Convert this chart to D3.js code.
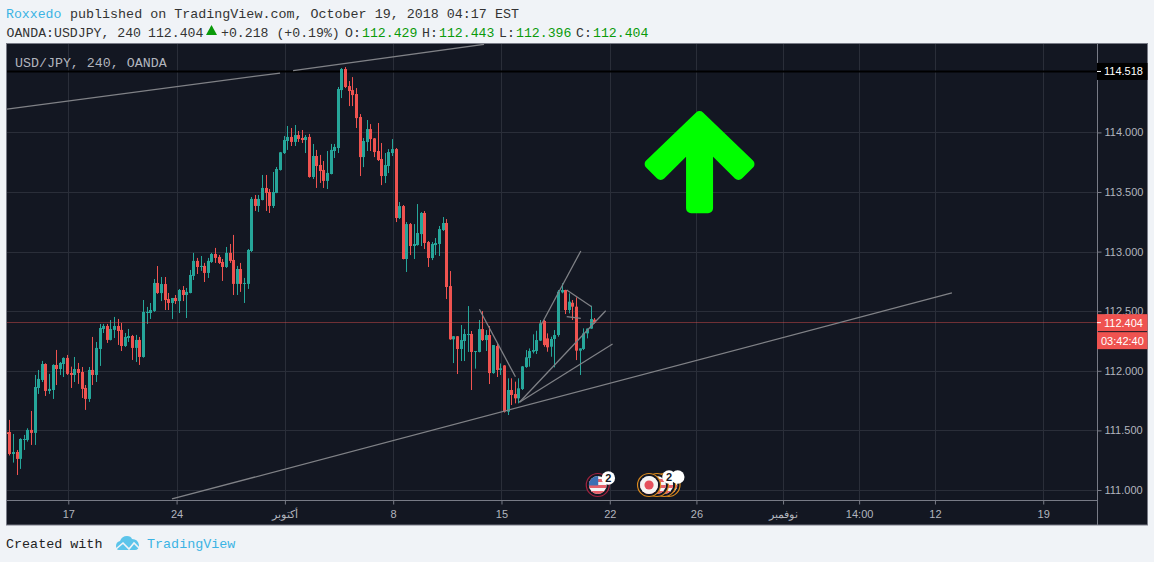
<!DOCTYPE html>
<html>
<head>
<meta charset="utf-8">
<style>
html,body{margin:0;padding:0;background:#f0f3f7;}
svg{display:block;}
text{white-space:pre;}
</style>
<script src="https://cdn.jsdelivr.net/npm/d3@7/dist/d3.min.js"></script>
</head>
<body>
<svg id="c" width="1154" height="562"></svg>
<script>
const opens=[
111.484,111.487,111.302,111.319,111.261,111.420,111.420,111.504,111.479,111.856,
111.923,112.057,111.831,111.839,112.049,112.015,112.057,112.108,111.982,111.965,
112.015,111.990,111.856,111.764,112.007,111.965,112.183,112.351,112.376,112.259,
112.343,112.376,112.343,112.208,112.275,112.292,112.192,112.259,112.116,112.485,
112.485,112.502,112.737,112.652,112.728,112.602,112.569,112.611,112.585,112.678,
112.636,112.653,112.796,112.922,112.871,112.880,112.821,112.913,112.980,112.955,
112.913,112.871,112.989,112.930,112.729,112.854,112.729,112.729,113.005,113.442,
113.383,113.433,113.534,113.500,113.383,113.492,113.685,113.827,113.928,113.962,
113.920,113.978,113.953,113.936,113.962,113.626,113.802,113.727,113.685,113.593,
113.651,113.844,113.869,114.355,114.532,114.389,114.355,114.322,114.129,113.793,
113.919,114.028,113.950,113.844,113.777,113.634,113.718,113.827,113.860,113.282,
113.382,112.938,113.231,113.047,113.055,113.147,113.324,113.080,112.946,113.055,
113.064,113.181,113.240,112.711,112.264,112.290,112.183,112.250,112.300,112.309,
112.158,112.158,112.350,112.258,112.300,111.981,112.208,112.007,112.045,111.657,
111.839,111.805,111.769,111.847,112.032,112.107,112.160,112.166,112.253,112.418,
112.272,112.202,112.267,112.300,112.658,112.678,112.510,112.571,112.538,112.169,
112.183,112.314,112.354,112.429];
const highs=[
111.518,111.588,111.470,111.336,111.434,111.462,111.518,111.663,111.965,112.007,
112.083,112.063,111.974,112.055,112.175,112.074,112.113,112.133,112.035,112.116,
112.066,112.032,111.881,112.032,112.284,112.242,112.393,112.393,112.393,112.426,
112.452,112.435,112.401,112.317,112.351,112.301,112.301,112.284,112.594,112.536,
112.569,112.770,112.879,112.787,112.787,112.653,112.611,112.636,112.686,112.711,
112.695,112.846,112.989,112.947,112.963,112.905,112.947,112.989,113.031,112.972,
112.938,113.039,113.064,113.140,112.880,112.905,112.779,113.022,113.458,113.475,
113.475,113.643,113.643,113.525,113.668,113.710,113.836,113.970,114.054,114.037,
114.062,114.012,114.020,113.978,113.987,113.903,113.853,113.811,113.760,113.844,
113.903,113.903,114.381,114.540,114.548,114.431,114.464,114.372,114.154,113.953,
114.104,114.070,113.953,114.079,113.911,113.827,113.860,113.944,113.869,113.416,
113.391,113.248,113.240,113.231,113.399,113.332,113.340,113.089,113.080,113.114,
113.215,113.290,113.273,112.837,112.292,112.292,112.384,112.350,112.543,112.334,
112.166,112.426,112.501,112.342,112.376,112.216,112.233,112.062,112.048,111.937,
111.937,111.909,111.937,112.040,112.174,112.188,112.306,112.336,112.426,112.426,
112.314,112.286,112.342,112.678,112.734,112.680,112.650,112.594,112.616,112.188,
112.356,112.356,112.546,112.443];
const lows=[
111.420,111.290,111.230,111.126,111.177,111.336,111.406,111.378,111.378,111.806,
111.906,111.789,111.806,111.764,111.881,111.965,111.948,111.965,111.856,111.906,
111.890,111.772,111.672,111.739,111.881,111.906,112.041,112.317,112.234,112.255,
112.275,112.217,112.166,112.200,112.242,112.091,112.074,112.049,112.110,112.393,
112.435,112.494,112.645,112.585,112.510,112.510,112.434,112.560,112.485,112.585,
112.443,112.650,112.762,112.812,112.838,112.745,112.779,112.905,112.905,112.896,
112.754,112.863,112.905,112.636,112.636,112.662,112.569,112.687,112.997,113.341,
113.333,113.430,113.341,113.324,113.366,113.490,113.680,113.819,113.853,113.886,
113.886,113.920,113.911,113.827,113.620,113.609,113.534,113.576,113.534,113.525,
113.648,113.785,113.827,114.288,114.372,114.221,114.221,114.037,113.634,113.709,
113.844,113.844,113.793,113.760,113.558,113.575,113.659,113.802,113.248,113.273,
112.935,112.829,112.971,112.938,113.050,113.047,113.022,112.871,112.929,112.971,
112.963,113.173,112.602,112.260,112.065,111.973,112.082,112.082,112.158,111.839,
112.018,112.155,112.250,112.166,111.889,111.975,111.948,111.965,111.650,111.629,
111.713,111.727,111.727,111.839,112.025,112.035,112.146,112.141,112.250,112.202,
112.160,112.118,112.029,112.286,112.650,112.476,112.482,112.426,112.090,111.965,
112.174,112.272,112.352,112.396];
const closes=[
111.470,111.302,111.319,111.261,111.428,111.428,111.504,111.479,111.864,111.932,
112.057,111.831,111.848,112.049,112.015,112.066,112.108,111.974,111.965,112.015,
111.982,111.848,111.764,112.007,111.965,112.192,112.359,112.376,112.259,112.351,
112.376,112.334,112.208,112.284,112.292,112.192,112.259,112.116,112.494,112.494,
112.510,112.737,112.653,112.728,112.594,112.569,112.611,112.585,112.678,112.636,
112.662,112.804,112.922,112.871,112.880,112.821,112.922,112.980,112.947,112.905,
112.871,112.989,112.922,112.729,112.854,112.729,112.737,113.014,113.442,113.383,
113.442,113.534,113.492,113.383,113.500,113.693,113.833,113.936,113.962,113.920,
113.978,113.945,113.936,113.962,113.626,113.802,113.718,113.676,113.593,113.660,
113.853,113.878,114.364,114.532,114.381,114.347,114.313,114.120,113.793,113.928,
114.028,113.944,113.835,113.768,113.634,113.726,113.835,113.860,113.282,113.382,
112.938,113.231,113.047,113.064,113.156,113.324,113.072,112.946,113.064,113.072,
113.189,113.240,112.703,112.264,112.290,112.183,112.258,112.309,112.309,112.158,
112.166,112.350,112.258,112.300,111.981,112.216,112.007,112.021,111.657,111.839,
111.797,111.769,111.853,112.037,112.113,112.166,112.174,112.258,112.398,112.216,
112.197,112.267,112.300,112.664,112.678,112.510,112.580,112.538,112.169,112.188,
112.314,112.354,112.434,112.404];

const priceTicks=[111,111.5,112,112.5,113,113.5,114];
const timeTickBars=[17.33,47.33,77.33,107.33,137.33,167.33,191.33,215.33,236.4,257.4,287.4];
const timeTickLabels=["17","24","أكتوبر","8","15","22","26","نوفمبر","14:00","12","19"];

// drawings: [bar, price] end points
const trendLines=[
 [[0.36,114.196],[76.0,114.498]],
 [[79.6,114.519],[132.5,114.739]],
 [[46.06,110.925],[262.1,112.653]],
 [[131.2,112.516],[141.2,111.950]],
 [[142.3,111.736],[166.2,112.504]],
 [[142.3,111.736],[168.1,112.225]],
 [[148.3,112.384],[159.3,113.005]],
 [[155.4,112.678],[162.3,112.538]],
 [[155.4,112.454],[159.3,112.440]]
];
const hLinePrice=114.518;
const lastPrice=112.404;
const arrowTip=[192.2,114.213];
const usEvent=164.0;
const jpEvents=[178.2,180.4,182.4,183.6];

const UP="#26a69a",DOWN="#ef5350",BG="#131722",GRID="#2a2e39",AXIS="#787b86",TXT="#b2b5be";
const L=7,R=1097,T=44,B=500,OUTR=1147.5,OUTB=525;

const svg=d3.select("#c");
const x=d3.scaleLinear().domain([0,100]).range([5.72,366.72]);
const y=d3.scaleLinear().domain([111,114]).range([490,132.4]);

const mono='"Liberation Mono",monospace';
const sans='"Liberation Sans",Arial,sans-serif';

// frame
svg.append("rect").attr("x",6.5).attr("y",43.5).attr("width",OUTR-6.5).attr("height",OUTB-43.5)
  .attr("fill",BG).attr("stroke",AXIS).attr("stroke-width",1);

svg.append("clipPath").attr("id","plot").append("rect")
  .attr("x",L).attr("y",T).attr("width",R-L).attr("height",B-T);
const plot=svg.append("g").attr("clip-path","url(#plot)");

// grid
plot.append("g").selectAll("line").data(priceTicks).join("line")
  .attr("x1",L).attr("x2",R)
  .attr("y1",d=>Math.round(y(d))+.5).attr("y2",d=>Math.round(y(d))+.5)
  .attr("stroke",GRID);
plot.append("g").selectAll("line").data(timeTickBars).join("line")
  .attr("y1",T).attr("y2",B)
  .attr("x1",d=>Math.round(x(d))+.5).attr("x2",d=>Math.round(x(d))+.5)
  .attr("stroke",GRID);

// horizontal line, behind the candles
plot.append("line").attr("x1",L).attr("x2",R)
  .attr("y1",y(hLinePrice)+.8).attr("y2",y(hLinePrice)+.8)
  .attr("stroke","#000").attr("stroke-width",2);

// candles
const bars=d3.range(opens.length);
const col=i=>closes[i]>=opens[i]?UP:DOWN;
const snap=i=>Math.round(x(i));
plot.append("g").selectAll("rect").data(bars).join("rect")
  .attr("x",snap).attr("width",1)
  .attr("y",i=>y(highs[i])).attr("height",i=>y(lows[i])-y(highs[i]))
  .attr("fill",col);
plot.append("g").selectAll("rect").data(bars).join("rect")
  .attr("x",i=>snap(i)-1).attr("width",3)
  .attr("y",i=>y(Math.max(opens[i],closes[i])))
  .attr("height",i=>Math.max(1,Math.abs(y(opens[i])-y(closes[i]))))
  .attr("fill",col);

// last-price line
plot.append("line").attr("x1",L).attr("x2",R)
  .attr("y1",Math.floor(y(lastPrice))+.5).attr("y2",Math.floor(y(lastPrice))+.5)
  .attr("stroke","#ef5350").attr("stroke-opacity",.42);

// trend lines
plot.append("g").selectAll("line").data(trendLines).join("line")
  .attr("x1",d=>x(d[0][0])).attr("y1",d=>y(d[0][1]))
  .attr("x2",d=>x(d[1][0])).attr("y2",d=>y(d[1][1]))
  .attr("stroke","#808287").attr("stroke-width",1.25);

// arrow glyph
const arrowOutline=[[0,9],[49.93,57],[38.9,68.03],[8.5,37.63],[8.5,101.3],[-8.5,101.3],[-8.5,37.63],[-38.9,68.03],[-49.93,57]];
plot.append("path")
  .attr("transform",`translate(${x(arrowTip[0])},${y(arrowTip[1])})`)
  .attr("d",d3.line()(arrowOutline)+"Z")
  .attr("fill","#00ff00").attr("stroke","#00ff00").attr("stroke-width",10).attr("stroke-linejoin","round");

// event bubbles
const defs=svg.append("defs");
function usFlag(g,cx,cy,r,id){
  defs.append("clipPath").attr("id",id).append("circle").attr("cx",cx).attr("cy",cy).attr("r",r);
  const f=g.append("g").attr("clip-path",`url(#${id})`);
  f.append("rect").attr("x",cx-r).attr("y",cy-r).attr("width",2*r).attr("height",2*r).attr("fill","#f4f4f4");
  d3.range(0,6).forEach(k=>{
    if(k%2==1) f.append("rect").attr("x",cx-r).attr("y",cy-r+k*r/3).attr("width",2*r).attr("height",r/3).attr("fill","#e5606a");
  });
  f.append("rect").attr("x",cx-r).attr("y",cy-r).attr("width",r*1.05).attr("height",r*1.05).attr("fill","#3c6fb4");
}
const evY=485;
const ev=svg.append("g");
ev.append("circle").attr("cx",x(usEvent)).attr("cy",evY).attr("r",11.5).attr("fill",BG).attr("stroke","#a2233f").attr("stroke-width",1.2);
usFlag(ev,x(usEvent),evY,9,"cu");
jpEvents.slice().reverse().forEach((b,k)=>{
  ev.append("circle").attr("cx",x(b)).attr("cy",evY).attr("r",11.5).attr("fill",BG).attr("stroke","#d9881d").attr("stroke-width",1.2);
  usFlag(ev,x(b),evY,9,"cf"+k);
});
const j0=x(jpEvents[0]);
ev.append("circle").attr("cx",j0).attr("cy",evY).attr("r",9).attr("fill","#f4f4f4");
ev.append("circle").attr("cx",j0).attr("cy",evY).attr("r",4.6).attr("fill","#e5505e");
[[608.3,478],[677.7,477],[669,477]].forEach(p=>{
  ev.append("circle").attr("cx",p[0]).attr("cy",p[1]).attr("r",6.8).attr("fill","#fff");
});
[[608.3,478],[669,477]].forEach(p=>{
  ev.append("text").attr("x",p[0]).attr("y",p[1]+4).attr("text-anchor","middle")
    .attr("font-family",sans).attr("font-weight","bold").attr("font-size",11).attr("fill","#131722").text("2");
});

// price axis
const yAxis=d3.axisRight(y).tickValues(priceTicks).tickSize(4).tickPadding(3).tickFormat(d3.format(".3f"));
const gy=svg.append("g").attr("transform",`translate(${R+.5},0)`).call(yAxis);
gy.select(".domain").attr("stroke",AXIS).attr("d",`M0,${T}V${OUTB}`);
gy.selectAll("line").attr("stroke",AXIS);
gy.selectAll("text").attr("fill",TXT).attr("font-family",sans).attr("font-size",11);

// time axis
const xAxis=d3.axisBottom(x).tickValues(timeTickBars).tickSize(4).tickPadding(6)
  .tickFormat((d,i)=>timeTickLabels[i]);
const gx=svg.append("g").attr("transform",`translate(0,${B+.5})`).call(xAxis);
gx.select(".domain").attr("stroke",AXIS).attr("d",`M${L},0H${R}`);
gx.selectAll("line").attr("stroke",AXIS);
gx.selectAll("text").attr("fill",TXT).attr("font-family",sans).attr("font-size",11);

// price labels
function priceLabel(yc,h,fill,label,tick){
  svg.append("rect").attr("x",R).attr("y",yc-h/2).attr("width",OUTR-R).attr("height",h).attr("fill",fill);
  if(tick) svg.append("line").attr("x1",R).attr("x2",R+4).attr("y1",yc).attr("y2",yc).attr("stroke","#fff");
  svg.append("text").attr("x",tick?R+7:R+4).attr("y",yc+4).attr("fill","#fff")
    .attr("font-family",sans).attr("font-size",11).text(label);
}
priceLabel(y(hLinePrice)+.8,17,"#000000",d3.format(".3f")(hLinePrice),true);
priceLabel(y(lastPrice),17,"#ef5350",d3.format(".3f")(lastPrice),true);
priceLabel(y(lastPrice)+18,17,"#ef5350","03:42:40",false);

// chart title
svg.append("text").attr("x",15).attr("y",67).attr("fill",TXT).attr("font-family",mono).attr("font-size",13.3).text("USD/JPY, 240, OANDA");

// header
const head=svg.append("g").attr("font-family",mono).attr("font-size",13.2);
head.append("text").attr("x",6).attr("y",18).attr("fill","#3bb3e4").text("Roxxedo");
head.append("text").attr("x",70).attr("y",18).attr("fill","#333").attr("font-size",13.36).text("published on TradingView.com, October 19, 2018 04:17 EST");
const GREEN="#0a9a0a";
[["OANDA:USDJPY, 240",6.5,"#333"],["112.404",148,"#333"],["+0.218 (+0.19%)",221,"#333"],
 ["O:",345,"#333"],["112.429",362,GREEN],["H:",422,"#333"],["112.443",439,GREEN],
 ["L:",499,"#333"],["112.396",516,GREEN],["C:",576,"#333"],["112.404",593,GREEN]]
.forEach(s=>head.append("text").attr("x",s[1]).attr("y",36.5).attr("fill",s[2]).text(s[0]));
head.append("path").attr("d","M206,35L211.5,25L217,35Z").attr("fill",GREEN);

// footer
const foot=svg.append("g").attr("font-family",mono).attr("font-size",13.4);
foot.append("text").attr("x",6).attr("y",548).attr("fill","#222").text("Created with");
foot.append("text").attr("x",147).attr("y",548).attr("fill","#3bb3e4").text("TradingView");
foot.append("path")
  .attr("d","M116,546 Q116,542 120,541 Q122,536 127,536 Q131,536 132,539 Q138,539 139,545 Q139,550 135,550 L119,550 Q116,550 116,546Z")
  .attr("fill","#5cc4ea");
foot.append("path").attr("d","M116,549 L123,543 L129,549 L134,543 L139,548")
  .attr("fill","none").attr("stroke","#f0f3f7").attr("stroke-width",1.6);
</script>
</body>
</html>
